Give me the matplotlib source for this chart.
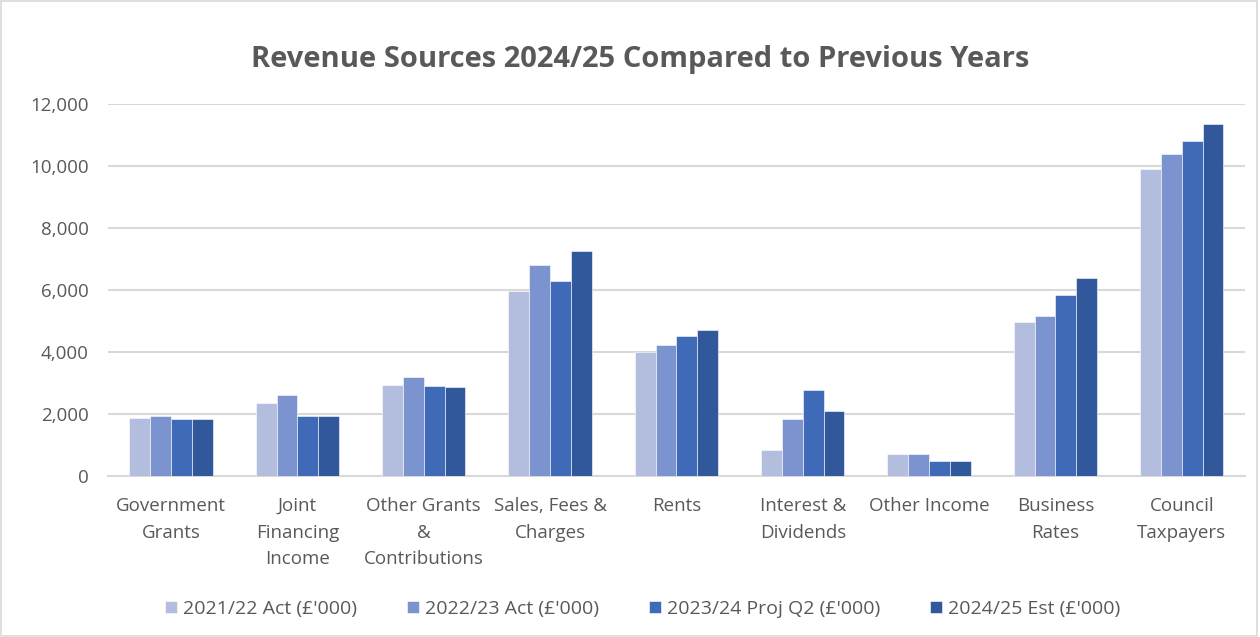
import numpy as np
import matplotlib.pyplot as plt
from matplotlib.patches import Rectangle

# ── Data ────────────────────────────────────────────────────────────────
categories = [
    "Government\nGrants",
    "Joint\nFinancing\nIncome",
    "Other Grants\n&\nContributions",
    "Sales, Fees &\nCharges",
    "Rents",
    "Interest &\nDividends",
    "Other Income",
    "Business\nRates",
    "Council\nTaxpayers",
]
series_names = [
    "2021/22 Act (£'000)",
    "2022/23 Act (£'000)",
    "2023/24 Proj Q2 (£'000)",
    "2024/25 Est (£'000)",
]
act_2122 = [1870, 2360, 2940, 5970, 3990, 850, 720, 4970, 9900]
act_2223 = [1950, 2600, 3190, 6800, 4220, 1840, 720, 5150, 10400]
proj_2324 = [1830, 1950, 2900, 6290, 4520, 2760, 500, 5850, 10820]
est_2425 = [1830, 1950, 2870, 7250, 4720, 2100, 500, 6390, 11370]
series = [act_2122, act_2223, proj_2324, est_2425]
colors = ["#B3BEDF", "#7B93CF", "#3E6AB8", "#30589A"]

text_col = "#595959"
plt.rcParams["font.family"] = ["Open Sans", "DejaVu Sans"]

# ── Figure ──────────────────────────────────────────────────────────────
fig = plt.figure(figsize=(12.6, 6.37), dpi=100)
fig.patches.append(Rectangle((0.001, 0.002), 0.997, 0.996, transform=fig.transFigure,
                             fill=False, edgecolor="#D9D9D9", linewidth=1.2))
ax = fig.add_axes([0.0857, 0.2527, 0.9023, 0.584])

x = np.arange(len(categories))
width = 0.165
for i, (vals, name, c) in enumerate(zip(series, series_names, colors)):
    ax.bar(x + (i - 1.5) * width, vals, width, color=c, label=name,
           edgecolor="white", linewidth=0.4, zorder=3)

ax.set_xlim(-0.5, len(categories) - 0.5)
ax.set_ylim(0, 12000)
ax.set_yticks(np.arange(0, 12001, 2000))
ax.set_yticklabels([f"{v:,}" for v in range(0, 12001, 2000)])
ax.yaxis.grid(True, color="#D9D9D9", linewidth=1.5, zorder=0)
ax.set_xticks(x)
ax.set_xticklabels(categories, linespacing=1.62)
ax.tick_params(axis="x", length=0, labelsize=13.5, colors=text_col, pad=15)
ax.tick_params(axis="y", length=0, labelsize=13.5, colors=text_col, pad=14)
for s in ["top", "right", "left"]:
    ax.spines[s].set_visible(False)
ax.spines["bottom"].set_color("#D9D9D9")
ax.spines["bottom"].set_linewidth(1.5)

fig.suptitle("Revenue Sources 2024/25 Compared to Previous Years",
             x=0.508, y=0.93, fontsize=21, fontweight="bold", color=text_col)

fig.legend(loc="center", bbox_to_anchor=(0.51, 0.044), ncol=4, frameon=False,
           fontsize=14, labelcolor=text_col, handlelength=0.6, handleheight=0.6,
           handletextpad=0.3, columnspacing=2.6)

fig.savefig("out.png", dpi=100)
